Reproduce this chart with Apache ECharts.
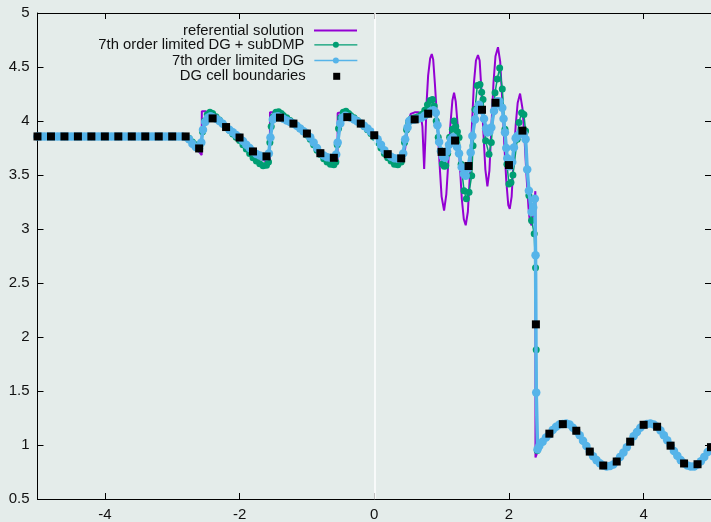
<!DOCTYPE html>
<html lang="en">
<head>
<meta charset="UTF-8">
<title>Density, DG comparison</title>
<style>
    html, body { margin: 0; padding: 0; background: #e4ecea; }
    #main { width: 711px; height: 522px; }
</style>
</head>
<body>
<div id="main"></div>
<script src="https://cdn.jsdelivr.net/npm/echarts@6/dist/echarts.min.js"></script>
<script>
    // tick labels
    var xTicks = [-4, -2, 0, 2, 4];

    // referential solution (x, rho)
    var refSolution = [
        [-5.00,3.857],[-4.50,3.857],[-4.00,3.857],[-3.50,3.857],[-3.00,3.857],[-2.85,3.857],
        [-2.80,3.850],[-2.75,3.825],[-2.70,3.790],[-2.65,3.750],[-2.60,3.715],[-2.562,3.685],
        [-2.560,4.090],[-2.50,4.090],[-2.45,4.070],[-2.40,4.040],[-2.30,3.995],[-2.20,3.940],[-2.10,3.890],[-2.00,3.835],
        [-1.90,3.770],[-1.80,3.705],[-1.70,3.655],[-1.60,3.625],[-1.55,3.615],
        [-1.548,4.080],[-1.48,4.080],[-1.44,4.065],[-1.40,4.045],[-1.30,4.005],[-1.20,3.970],[-1.10,3.925],[-1.00,3.870],
        [-0.90,3.790],[-0.80,3.705],[-0.70,3.650],[-0.60,3.620],[-0.545,3.610],
        [-0.543,4.075],[-0.48,4.080],[-0.44,4.065],[-0.40,4.045],[-0.30,4.010],[-0.20,3.970],[-0.10,3.920],[0.00,3.860],
        [0.10,3.775],[0.20,3.695],[0.30,3.655],[0.40,3.648],[0.45,3.700],
        [0.48,3.850],[0.51,4.000],[0.54,4.065],[0.60,4.080],[0.66,4.080],[0.69,4.060],[0.715,3.950],[0.741,3.555],
        [0.760,3.850],[0.78,4.200],[0.80,4.420],[0.83,4.580],[0.854,4.620],[0.875,4.570],[0.90,4.350],
        [0.94,3.950],[0.97,3.600],[1.00,3.300],[1.037,3.171],[1.07,3.320],[1.10,3.620],[1.13,3.960],[1.16,4.190],
        [1.185,4.261],[1.21,4.180],[1.24,3.950],[1.27,3.600],[1.30,3.280],[1.33,3.090],[1.358,3.035],
        [1.39,3.160],[1.42,3.500],[1.45,3.950],[1.48,4.350],[1.51,4.560],[1.54,4.610],[1.565,4.560],[1.59,4.300],
        [1.62,3.900],[1.65,3.550],[1.68,3.395],[1.71,3.540],[1.74,3.950],[1.77,4.350],[1.80,4.600],[1.837,4.683],
        [1.87,4.550],[1.90,4.200],[1.93,3.800],[1.96,3.450],[1.99,3.220],[2.012,3.187],[2.04,3.300],[2.07,3.650],
        [2.10,3.960],[2.13,4.170],[2.165,4.254],[2.20,4.120],[2.23,3.850],[2.26,3.500],[2.29,3.200],[2.31,3.070],[2.336,3.035],
        [2.36,3.120],[2.38,3.260],[2.392,3.350],[2.394,0.885],[2.42,0.930],[2.45,0.990],[2.50,1.030],[2.60,1.100],
        [2.70,1.170],[2.80,1.195],[2.90,1.190],[3.00,1.130],[3.10,1.040],[3.20,0.940],[3.30,0.860],[3.40,0.810],
        [3.50,0.805],[3.60,0.850],[3.70,0.930],[3.80,1.030],[3.90,1.120],[4.00,1.185],[4.10,1.200],[4.20,1.170],
        [4.30,1.090],[4.40,0.995],[4.50,0.900],[4.60,0.830],[4.70,0.800],[4.80,0.820],[4.90,0.890],[5.00,0.980]
    ];

    // 7th order limited DG + subDMP
    var dgSubDmp = [
        [-5.00,3.857],[-4.90,3.857],[-4.80,3.857],[-4.70,3.857],[-4.60,3.857],[-4.50,3.857],[-4.40,3.857],
        [-4.30,3.857],[-4.20,3.857],[-4.10,3.857],[-4.00,3.857],[-3.90,3.857],[-3.80,3.857],[-3.70,3.857],
        [-3.60,3.857],[-3.50,3.857],[-3.40,3.857],[-3.30,3.857],[-3.20,3.857],[-3.10,3.857],[-3.00,3.857],
        [-2.90,3.857],[-2.85,3.857],
        [-2.80,3.855],[-2.75,3.840],[-2.70,3.805],[-2.65,3.780],[-2.60,3.760],[-2.575,3.790],[-2.55,3.900],
        [-2.52,4.000],[-2.48,4.060],[-2.44,4.080],[-2.40,4.070],[-2.35,4.040],[-2.30,4.010],[-2.25,3.980],
        [-2.20,3.945],[-2.15,3.915],[-2.10,3.880],[-2.05,3.850],[-2.00,3.820],[-1.95,3.780],[-1.90,3.740],
        [-1.85,3.700],[-1.80,3.660],[-1.75,3.630],[-1.70,3.605],[-1.65,3.585],[-1.60,3.590],[-1.57,3.620],
        [-1.55,3.800],[-1.53,3.950],[-1.50,4.040],[-1.46,4.080],[-1.42,4.085],[-1.38,4.070],[-1.35,4.050],
        [-1.30,4.030],[-1.25,4.005],[-1.20,3.980],[-1.15,3.955],[-1.10,3.930],[-1.05,3.900],[-1.00,3.870],
        [-0.95,3.830],[-0.90,3.780],[-0.85,3.730],[-0.80,3.690],[-0.75,3.650],[-0.70,3.620],[-0.65,3.600],
        [-0.60,3.595],[-0.57,3.620],
        [-0.55,3.780],[-0.53,3.930],[-0.50,4.030],[-0.46,4.080],[-0.42,4.090],[-0.38,4.070],[-0.35,4.050],
        [-0.30,4.030],[-0.25,4.005],[-0.20,3.980],[-0.15,3.950],[-0.10,3.920],[-0.05,3.885],[0.00,3.850],
        [0.05,3.800],[0.10,3.750],[0.15,3.700],[0.20,3.660],[0.25,3.630],[0.30,3.600],[0.35,3.595],[0.40,3.620],
        [0.42,3.693],[0.45,3.800],[0.48,3.920],[0.51,3.990],[0.55,4.020],[0.60,4.030],[0.65,4.040],[0.70,4.060],
        [0.75,4.100],[0.79,4.150],[0.83,4.190],[0.864,4.200],[0.89,4.140],[0.92,4.000],[0.95,3.850],[0.988,3.724],
        [1.012,3.601],[1.04,3.580],[1.062,3.586],[1.09,3.700],[1.12,3.850],[1.16,3.923],[1.185,4.000],[1.21,3.950],
        [1.235,3.900],[1.259,3.847],[1.29,3.600],[1.333,3.355],[1.368,3.279],[1.407,3.340],[1.447,3.494],[1.467,3.770],
        [1.496,4.107],[1.530,4.328],[1.570,4.337],[1.595,4.266],[1.615,4.199],[1.654,3.816],[1.704,3.693],[1.738,3.800],
        [1.793,4.261],[1.827,4.390],[1.862,4.491],[1.901,4.297],[1.941,3.923],[1.97,3.600],[2.000,3.417],[2.030,3.430],
        [2.059,3.500],[2.123,3.831],[2.148,3.985],[2.188,4.077],[2.222,4.061],[2.247,3.908],[2.296,3.310],[2.336,3.079],
        [2.375,2.957],[2.395,2.641],[2.405,1.883],[2.42,0.948],
        [2.45,0.990],[2.50,1.030],[2.60,1.100],[2.70,1.170],[2.80,1.195],[2.90,1.190],[3.00,1.130],[3.10,1.040],
        [3.20,0.940],[3.30,0.860],[3.40,0.810],[3.50,0.805],[3.60,0.850],[3.70,0.930],[3.80,1.030],[3.90,1.120],
        [4.00,1.185],[4.10,1.200],[4.20,1.170],[4.30,1.090],[4.40,0.995],[4.50,0.900],[4.60,0.830],[4.70,0.800],
        [4.80,0.820],[4.90,0.890],[5.00,0.980]
    ];

    // 7th order limited DG
    var dgLimited = [
        [-5.00,3.857],[-4.95,3.857],[-4.90,3.857],[-4.85,3.857],[-4.80,3.857],[-4.75,3.857],[-4.70,3.857],[-4.65,3.857],
        [-4.60,3.857],[-4.55,3.857],[-4.50,3.857],[-4.45,3.857],[-4.40,3.857],[-4.35,3.857],[-4.30,3.857],[-4.25,3.857],
        [-4.20,3.857],[-4.15,3.857],[-4.10,3.857],[-4.05,3.857],[-4.00,3.857],[-3.95,3.857],[-3.90,3.857],[-3.85,3.857],
        [-3.80,3.857],[-3.75,3.857],[-3.70,3.857],[-3.65,3.857],[-3.60,3.857],[-3.55,3.857],[-3.50,3.857],[-3.45,3.857],
        [-3.40,3.857],[-3.35,3.857],[-3.30,3.857],[-3.25,3.857],[-3.20,3.857],[-3.15,3.857],[-3.10,3.857],[-3.05,3.857],
        [-3.00,3.857],[-2.95,3.857],[-2.90,3.857],[-2.85,3.856],
        [-2.80,3.852],[-2.75,3.830],[-2.70,3.790],[-2.65,3.760],[-2.60,3.748],[-2.568,3.800],[-2.543,3.920],[-2.51,3.990],
        [-2.47,4.030],[-2.43,4.045],[-2.40,4.035],[-2.35,4.020],[-2.30,4.000],[-2.25,3.975],[-2.20,3.945],[-2.15,3.920],
        [-2.10,3.895],[-2.05,3.870],[-2.00,3.847],[-1.95,3.815],[-1.90,3.780],[-1.85,3.750],[-1.80,3.718],[-1.75,3.695],
        [-1.70,3.680],[-1.65,3.672],[-1.60,3.672],[-1.565,3.700],
        [-1.541,3.847],[-1.506,4.015],[-1.47,4.040],[-1.43,4.045],[-1.40,4.035],[-1.35,4.020],[-1.30,4.005],[-1.25,3.990],
        [-1.20,3.976],[-1.15,3.955],[-1.10,3.930],[-1.05,3.905],[-1.00,3.884],[-0.95,3.850],[-0.90,3.800],[-0.85,3.750],
        [-0.80,3.702],[-0.75,3.680],[-0.70,3.665],[-0.65,3.660],[-0.60,3.659],[-0.565,3.690],
        [-0.543,3.800],[-0.504,3.978],[-0.47,4.030],[-0.43,4.048],[-0.40,4.040],[-0.35,4.030],[-0.30,4.015],[-0.25,3.995],
        [-0.20,3.976],[-0.15,3.955],[-0.10,3.930],[-0.05,3.900],[0.00,3.868],[0.05,3.830],[0.10,3.780],[0.15,3.730],
        [0.20,3.693],[0.25,3.670],[0.30,3.655],[0.35,3.650],[0.40,3.654],[0.43,3.700],
        [0.459,3.830],[0.494,3.939],[0.52,4.000],[0.56,4.015],[0.60,4.015],[0.65,4.020],[0.70,4.030],[0.75,4.050],
        [0.80,4.068],[0.84,4.090],[0.88,4.100],[0.914,4.077],[0.938,3.960],[0.963,3.806],[0.99,3.720],[1.02,3.670],
        [1.05,3.660],[1.08,3.720],[1.11,3.780],[1.14,3.830],[1.17,3.850],[1.20,3.820],[1.23,3.760],[1.259,3.700],
        [1.299,3.571],[1.33,3.510],[1.358,3.494],[1.39,3.560],[1.432,3.709],[1.457,3.862],[1.496,4.015],[1.53,4.100],
        [1.556,4.150],[1.59,4.100],[1.63,4.020],[1.66,3.930],[1.679,3.893],[1.71,3.900],[1.738,3.939],[1.778,4.092],
        [1.80,4.150],[1.827,4.184],[1.86,4.180],[1.901,4.123],[1.92,4.020],[1.941,3.893],[1.96,3.750],[1.975,3.654],
        [2.01,3.580],[2.049,3.620],[2.074,3.755],[2.10,3.840],[2.123,3.860],[2.16,3.880],[2.197,3.908],[2.222,3.880],
        [2.247,3.831],[2.271,3.550],[2.296,3.355],[2.336,3.157],[2.36,3.200],[2.385,3.279],[2.395,2.757],[2.405,1.485],
        [2.425,0.960],
        [2.45,0.990],[2.50,1.030],[2.55,1.070],[2.60,1.100],[2.65,1.140],[2.70,1.170],[2.75,1.190],[2.80,1.195],
        [2.85,1.200],[2.90,1.190],[2.95,1.160],[3.00,1.130],[3.05,1.090],[3.10,1.040],[3.15,0.990],[3.20,0.940],
        [3.25,0.895],[3.30,0.860],[3.35,0.830],[3.40,0.810],[3.45,0.800],[3.50,0.805],[3.55,0.820],[3.60,0.850],
        [3.65,0.890],[3.70,0.930],[3.75,0.980],[3.80,1.030],[3.85,1.080],[3.90,1.120],[3.95,1.160],[4.00,1.185],
        [4.05,1.195],[4.10,1.200],[4.15,1.190],[4.20,1.170],[4.25,1.135],[4.30,1.090],[4.35,1.045],[4.40,0.995],
        [4.45,0.945],[4.50,0.900],[4.55,0.860],[4.60,0.830],[4.65,0.810],[4.70,0.800],[4.75,0.800],[4.80,0.820],
        [4.85,0.850],[4.90,0.890],[4.95,0.935],[5.00,0.980]
    ];

    // DG cell boundaries
    var cellX = [
        -5.0, -4.8, -4.6, -4.4, -4.2, -4.0, -3.8, -3.6, -3.4, -3.2, -3.0, -2.8, -2.6, -2.4, -2.2, -2.0, -1.8,
        -1.6, -1.4, -1.2, -1.0, -0.8, -0.6, -0.4, -0.2, 0.0, 0.2, 0.4, 0.6, 0.8, 1.0, 1.2, 1.4, 1.6, 1.8,
        2.0, 2.2, 2.4, 2.6, 2.8, 3.0, 3.2, 3.4, 3.6, 3.8, 4.0, 4.2, 4.4, 4.6, 4.8, 5.0
    ];
    var cellRho = [
        3.857, 3.857, 3.857, 3.857, 3.857, 3.857, 3.857, 3.857, 3.857, 3.857, 3.857, 3.857, 3.746, 4.024, 3.944, 3.847, 3.718,
        3.672, 4.031, 3.976, 3.884, 3.702, 3.659, 4.036, 3.976, 3.868, 3.693, 3.654, 4.015, 4.068, 3.714, 3.819, 3.583, 4.104, 4.169,
        3.592, 3.911, 2.117, 1.105, 1.193, 1.132, 0.939, 0.810, 0.847, 1.031, 1.187, 1.169, 0.994, 0.829, 0.822, 0.980
    ];

    var FONT = 'Liberation Sans';
    var names = ['referential solution', '7th order limited DG + subDMP', '7th order limited DG', 'DG cell boundaries'];

    var cells = cellX.map(function (x, i) { return [x, cellRho[i]]; });

    // one legend per row so the icons line up on the right
    function legendRow(name, top, extra) {
        var l = {
            data: [name],
            right: 353,
            top: top,
            orient: 'vertical',
            align: 'right',
            itemWidth: 43,
            itemHeight: 7.5,
            selectedMode: false,
            padding: 0,
            lineStyle: { width: 1.3 },
            textStyle: { fontFamily: FONT, fontSize: 14.8, color: '#111', padding: [0, 5, 0, 0] }
        };
        for (var k in extra) l[k] = extra[k];
        return l;
    }

    var myChart = echarts.init(document.getElementById('main'));

    var axisLineStyle = { color: '#000', width: 1 };

    var option = {
        backgroundColor: '#e4ecea',
        animation: false,
        grid: { left: 37.5, right: -1.5, top: 13, bottom: 20, containLabel: false },
        legend: [
            legendRow(names[0], 23, { itemStyle: { opacity: 0 }, lineStyle: { width: 2 } }),
            legendRow(names[1], 37.3),
            legendRow(names[2], 53),
            legendRow(names[3], 68.8, {
                icon: 'path://M0,0L10,0L10,10L0,10Z', itemWidth: 7, itemHeight: 7, right: 370.8,
                textStyle: { fontFamily: FONT, fontSize: 14.8, color: '#111', padding: [0, 22.5, 0, 0] }
            })
        ],
        xAxis: [
            {
                type: 'value', min: -5, max: 5, position: 'bottom',
                axisLine: { show: true, onZero: false, lineStyle: axisLineStyle },
                axisTick: { show: true, inside: true, length: 6, customValues: xTicks, lineStyle: axisLineStyle },
                axisLabel: { show: true, customValues: xTicks, margin: 8, fontFamily: FONT, fontSize: 15, color: '#111' },
                splitLine: { show: false }
            },
            {
                type: 'value', min: -5, max: 5, position: 'top',
                axisLine: { show: true, onZero: false, lineStyle: axisLineStyle },
                axisTick: { show: true, inside: true, length: 6, customValues: xTicks, lineStyle: axisLineStyle },
                axisLabel: { show: false },
                splitLine: { show: false }
            }
        ],
        yAxis: [
            {
                type: 'value', min: 0.5, max: 5, interval: 0.5, position: 'left',
                axisLine: { show: true, onZero: false, lineStyle: axisLineStyle },
                axisTick: { show: true, inside: true, length: 6, lineStyle: axisLineStyle },
                axisLabel: { show: true, margin: 8, fontFamily: FONT, fontSize: 15, color: '#111' },
                splitLine: { show: false }
            },
            {
                type: 'value', min: 0.5, max: 5, interval: 0.5, position: 'right',
                axisLine: { show: true, onZero: false, lineStyle: axisLineStyle },
                axisTick: { show: true, inside: true, length: 6, lineStyle: axisLineStyle },
                axisLabel: { show: false },
                splitLine: { show: false }
            }
        ],
        series: [
            {
                name: names[0],
                type: 'line',
                data: refSolution,
                symbol: 'none',
                z: 2,
                lineStyle: { color: '#9400d3', width: 2 },
                itemStyle: { color: '#9400d3' },
                markLine: {
                    silent: true,
                    symbol: 'none',
                    label: { show: false },
                    lineStyle: { color: '#ffffff', width: 1.5, type: 'solid' },
                    data: [{ xAxis: 0 }]
                }
            },
            {
                name: names[1],
                type: 'line',
                data: dgSubDmp,
                symbol: 'circle',
                symbolSize: 7,
                z: 3,
                lineStyle: { color: '#009e73', width: 1.5 },
                itemStyle: { color: '#009e73', opacity: 1 }
            },
            {
                name: names[2],
                type: 'line',
                data: dgLimited,
                symbol: 'circle',
                symbolSize: 8.5,
                z: 4,
                lineStyle: { color: '#56b4e9', width: 3.5 },
                itemStyle: { color: '#56b4e9', opacity: 1 }
            },
            {
                name: names[3],
                type: 'scatter',
                data: cells,
                symbol: 'rect',
                symbolSize: 8,
                z: 5,
                itemStyle: { color: '#000', opacity: 1 }
            }
        ]
    };
    myChart.setOption(option);
</script>
</body>
</html>
